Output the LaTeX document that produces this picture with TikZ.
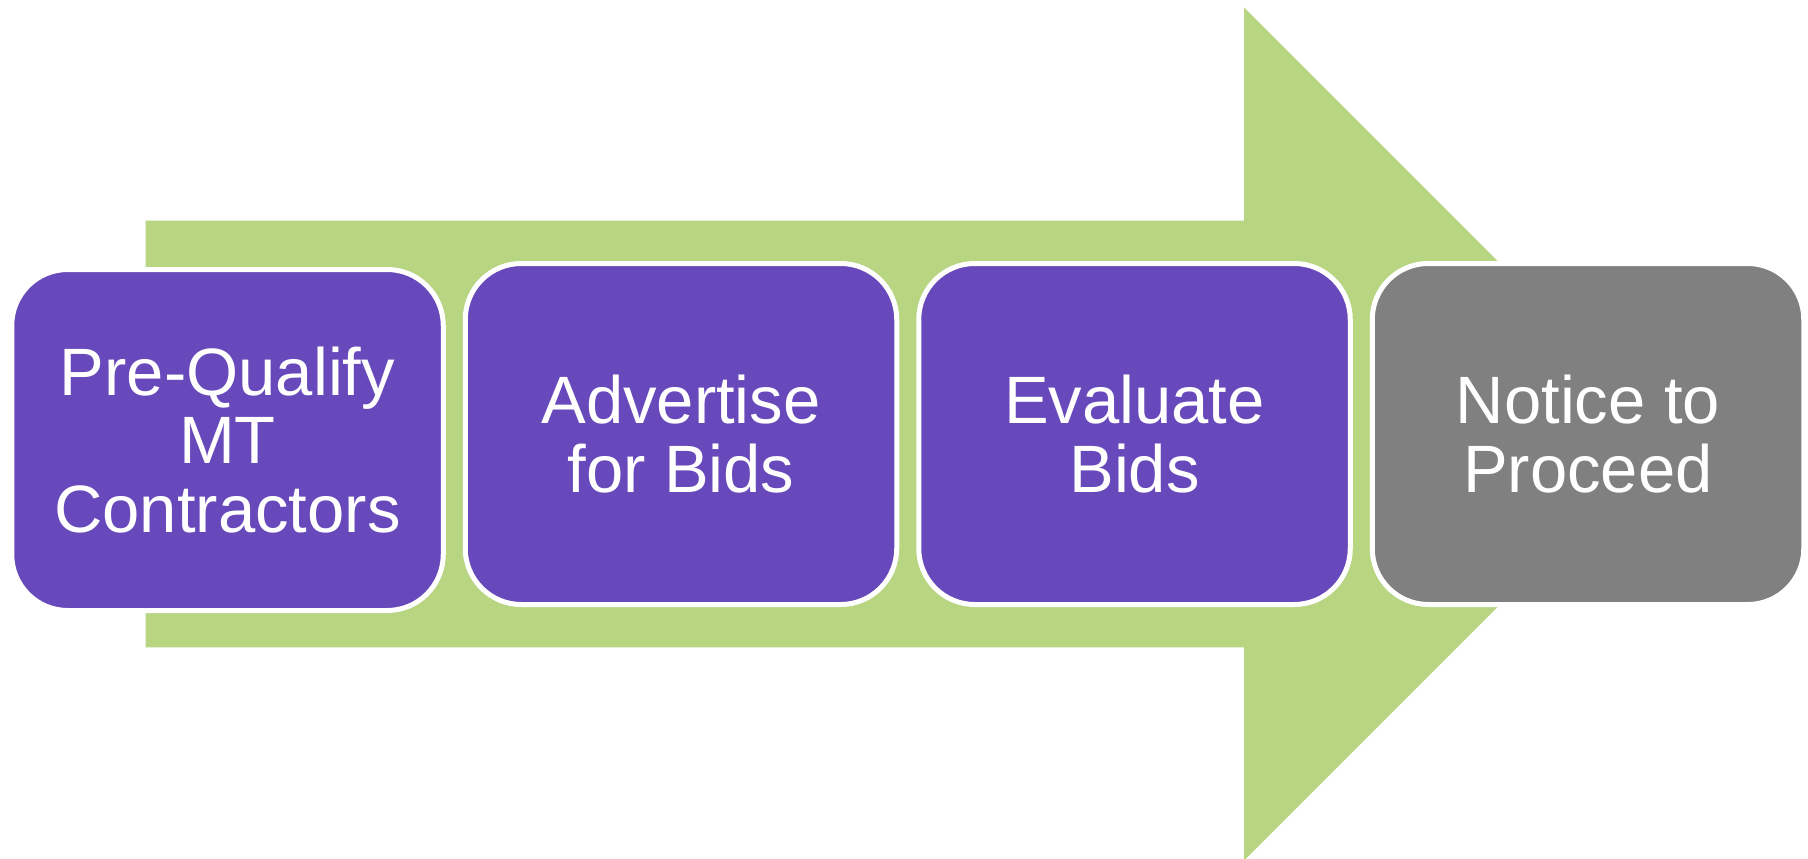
\documentclass[tikz,border=0pt]{standalone}
\usepackage{fontspec}
\setmainfont{Liberation Sans}
\definecolor{arrowgreen}{RGB}{184,213,130}
\definecolor{steppurple}{RGB}{104,73,187}
\definecolor{stepgray}{RGB}{128,128,128}
\begin{document}
\begin{tikzpicture}[x=1pt,y=-1pt,
  stepbox/.style={draw=white, line width=5pt, fill=steppurple, rounded corners=56pt,
    minimum width=431.5pt, minimum height=341pt, inner sep=0pt, outer sep=0pt,
    align=center, text=white, font=\fontsize{67}{68.5}\selectfont},
  lastbox/.style={stepbox, fill=stepgray}]
\useasboundingbox (0,0) rectangle (1808,859);
\fill[white] (0,0) rectangle (1808,859);
\fill[arrowgreen] (145.7,220.7) -- (1244,220.7) -- (1244,7.3) -- (1670.7,434) -- (1244,860.7) -- (1244,647.3) -- (145.7,647.3) -- cycle;
\node[stepbox] (s1) at (227.5,440) {Pre-Qualify\\MT\\Contractors};
\node[stepbox] (s2) at (681,434) {Advertise\\for Bids};
\node[stepbox] (s3) at (1134.5,434) {Evaluate\\Bids};
\node[lastbox] (s4) at (1588,434) {Notice to\\Proceed};
\end{tikzpicture}
\end{document}
